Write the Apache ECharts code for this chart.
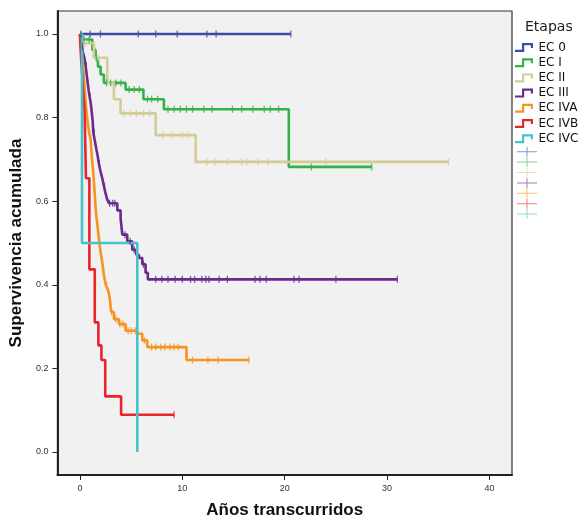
<!DOCTYPE html>
<html><head><meta charset="utf-8">
<script src="https://cdn.jsdelivr.net/npm/echarts@6/dist/echarts.min.js"></script>
<style>html,body{margin:0;padding:0;background:#fff}#c{width:579px;height:524px}</style>
</head><body><div id="c"></div>
<script>
// ---- data ----
const groups = ['EC 0','EC I','EC II','EC III','EC IVA','EC IVB','EC IVC'];
const colors = ['#3a4ca8','#33b24a','#d3cc96','#6b2a8f','#f7941e','#e8242c','#45c2ca'];
const xTicks = [0,10,20,30,40];
const yTicks = [0,0.2,0.4,0.6,0.8,1.0];

// Kaplan-Meier steps: [years, cumulative survival]
const survEC0 = [[0,1],[20.6,1]];
const survECI = [[0,1],[0.2,0.987],[1.21,0.962],[1.53,0.942],[1.76,0.922],[2.02,0.903],[2.34,0.883],[4.46,0.867],[6.2,0.844],[8.2,0.82],[20.4,0.682],[28.5,0.682]];
const survECII = [[0,1],[0.17,0.978],[1.36,0.943],[2.67,0.883],[3.32,0.844],[3.97,0.81],[7.4,0.758],[11.3,0.694],[36.0,0.694]];
const survECIII = [[0,1],[0.1,0.985],[0.2,0.97],[0.3,0.955],[0.43,0.943],[0.55,0.925],[0.65,0.905],[0.75,0.885],[0.85,0.865],[0.95,0.85],[1.05,0.835],[1.15,0.815],[1.25,0.79],[1.3,0.765],[1.45,0.745],[1.6,0.725],[1.7,0.713],[1.85,0.69],[2.0,0.672],[2.19,0.654],[2.35,0.635],[2.51,0.618],[2.65,0.605],[2.83,0.595],[3.65,0.578],[3.97,0.559],[4.14,0.52],[4.62,0.504],[5.11,0.484],[5.5,0.472],[5.76,0.464],[6.09,0.449],[6.41,0.429],[6.63,0.413],[31.0,0.413]];
const survECIVA = [[0,1],[0.08,0.98],[0.15,0.96],[0.22,0.94],[0.3,0.92],[0.38,0.9],[0.45,0.875],[0.52,0.85],[0.6,0.825],[0.7,0.8],[0.8,0.78],[0.9,0.765],[1.04,0.749],[1.12,0.72],[1.2,0.695],[1.3,0.67],[1.37,0.645],[1.45,0.615],[1.53,0.585],[1.62,0.56],[1.72,0.54],[1.85,0.512],[1.95,0.49],[2.07,0.47],[2.19,0.452],[2.3,0.43],[2.4,0.415],[2.55,0.398],[2.7,0.39],[2.83,0.38],[2.95,0.36],[3.05,0.335],[3.32,0.318],[3.8,0.306],[4.46,0.29],[5.6,0.283],[6.09,0.267],[6.58,0.251],[10.41,0.22],[16.5,0.22]];
const survECIVB = [[0,1],[0.05,0.97],[0.12,0.94],[0.2,0.91],[0.27,0.88],[0.35,0.85],[0.45,0.82],[0.59,0.655],[0.92,0.437],[1.45,0.31],[1.8,0.255],[2.1,0.22],[2.47,0.133],[4.02,0.089],[9.2,0.089]];
const survECIVC = [[0,1],[0.2,0.5],[5.6,0.0]];

// censored observations (years)
const censEC0 = [0.1,1.0,2.0,5.7,7.4,9.5,12.4,13.3,20.6];
const censECI = [0.4,0.9,1.6,2.6,3.0,3.5,4.0,4.8,5.3,5.8,6.6,7.0,7.6,8.6,9.2,9.8,10.4,11.0,12.1,12.9,14.9,15.8,16.9,18.0,18.6,19.4,22.6,28.5];
const censECII = [0.5,1.8,4.3,4.9,5.5,6.2,6.8,8.1,9.0,10.0,10.6,12.4,13.2,14.4,15.8,16.3,17.4,18.4,24.0,36.0];
const censECIII = [0.25,0.6,1.0,1.4,1.9,2.4,2.9,3.2,3.4,4.4,4.9,5.3,6.2,7.4,8.0,8.6,9.3,10.0,10.8,11.2,11.9,12.3,12.6,13.6,14.4,17.1,17.6,18.2,20.9,21.4,25.0,31.0];
const censECIVA = [0.5,1.2,1.9,2.6,3.1,3.5,3.9,4.2,4.7,5.0,5.4,6.3,7.0,7.4,7.9,8.3,8.8,9.2,9.6,11.0,12.5,13.5,16.5];
const censECIVB = [9.2];
const censECIVC = [];

const curves = [survEC0,survECI,survECII,survECIII,survECIVA,survECIVB,survECIVC];
const censors = [censEC0,censECI,censECII,censECIII,censECIVA,censECIVB,censECIVC];

function survAt(curve, t){
  let s = curve[0][1];
  for (const p of curve){ if (p[0] <= t) s = p[1]; }
  return s;
}

const FONT = '"Liberation Sans", Arial, sans-serif';
const stepIcon = 'path://M0,6.8H7V0H18V5H15.8V2.2H9.2V9H0Z';
const crossIcon = 'path://M0,4.5H20V5.5H0Z M9.5,0H10.5V10H9.5Z';

const series = [];
groups.forEach((g,i)=>{
  series.push({
    name: g, type: 'line', step: 'end', showSymbol: false, symbol: 'none',
    data: curves[i], z: 2 + i*0.01,
    lineStyle: {color: colors[i], width: 2.6},
    itemStyle: {color: colors[i]},
    emphasis: {disabled: true}, animation: false
  });
});
groups.forEach((g,i)=>{
  series.push({
    name: g + ' censurado', type: 'scatter', symbol: 'rect', symbolSize: [1.3, 7],
    data: censors[i].map(t => [t, survAt(curves[i], t)]), z: 3,
    itemStyle: {color: colors[i]},
    emphasis: {disabled: true}, animation: false
  });
});

const chart = echarts.init(document.getElementById('c'), null, {renderer: 'canvas'});
chart.setOption({
  animation: false,
  backgroundColor: '#ffffff',
  title: {
    text: 'Etapas', left: 520, top: 15,
    textStyle: {fontFamily: '"DejaVu Sans", sans-serif', fontSize: 14, fontWeight: 'normal', color: '#222'}
  },
  grid: {
    left: 57, top: 11, right: 67, bottom: 45, show: true,
    backgroundColor: '#f1f1f1', borderColor: '#333', borderWidth: 1.2
  },
  legend: [
    {
      data: groups, orient: 'vertical', left: 510, top: 36,
      icon: stepIcon, itemWidth: 19, itemHeight: 9, itemGap: 2.2,
      selectedMode: false,
      itemStyle: {borderWidth: 0},
      textStyle: {fontFamily: '"DejaVu Sans", sans-serif', fontSize: 12, color: '#111', lineHeight: 13}
    },
    {
      data: groups.map(g => g + ' censurado'), orient: 'vertical', left: 512, top: 141.7,
      icon: crossIcon, itemWidth: 20, itemHeight: 10, itemGap: 0.4,
      selectedMode: false, formatter: () => '',
      itemStyle: {borderWidth: 0, opacity: 0.6},
      textStyle: {fontSize: 8, lineHeight: 10}
    }
  ],
  xAxis: {
    type: 'value', min: -2.2, max: 42.2,
    name: 'Años transcurridos', nameLocation: 'middle', nameGap: 27,
    nameTextStyle: {fontFamily: FONT, fontSize: 17, fontWeight: 'bold', color: '#111'},
    axisLine: {show: true, onZero: false, lineStyle: {color: '#222', width: 2}},
    axisTick: {show: true, length: 5, customValues: xTicks, lineStyle: {color: '#222'}},
    axisLabel: {customValues: xTicks, margin: 9, fontFamily: FONT, fontSize: 9, color: '#333'},
    splitLine: {show: false}
  },
  yAxis: {
    type: 'value', min: -0.055, max: 1.055,
    name: 'Supervivencia acumulada', nameLocation: 'middle', nameGap: 30,
    nameTextStyle: {fontFamily: FONT, fontSize: 17, fontWeight: 'bold', color: '#111'},
    axisLine: {show: true, onZero: false, lineStyle: {color: '#222', width: 2}},
    axisTick: {show: true, length: 5, customValues: yTicks, lineStyle: {color: '#222'}},
    axisLabel: {customValues: yTicks, margin: 9, fontFamily: FONT, fontSize: 9, color: '#333',
      formatter: v => v.toFixed(1)},
    splitLine: {show: false}
  },
  series: series
});
</script>
</body></html>
